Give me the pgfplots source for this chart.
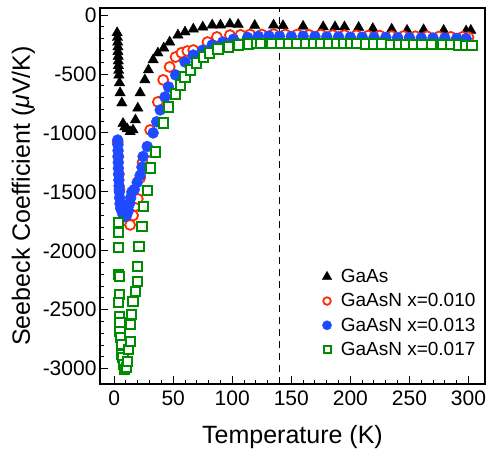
\documentclass[border=0pt]{standalone}
\usepackage{fontspec}
\setmainfont{Liberation Sans}
\usepackage{pgfplots}
\pgfplotsset{compat=1.18}
\definecolor{seebred}{RGB}{255,45,0}
\definecolor{seebblue}{RGB}{30,75,255}
\definecolor{seebgreen}{RGB}{0,140,0}

\begin{document}
\begin{tikzpicture}
\begin{axis}[
  scale only axis, width=385pt, height=376pt,
  xmin=-12, xmax=314, ymin=-3130, ymax=60,
  xtick={0,50,...,300}, ytick={-3000,-2500,...,0},
  minor x tick num=4, minor y tick num=4,
  tick align=inside, tick pos=left,
  major tick length=8pt, minor tick length=4pt,
  every tick/.style={black, line width=1pt},
  axis line style={line width=1.8pt},
  /pgf/number format/assume math mode=true,
  /pgf/number format/set thousands separator={},
  tick label style={font=\fontsize{21}{22}\selectfont},
  xticklabel style={yshift=-3pt},
  xlabel={Temperature (K)},
  ylabel={Seebeck Coefficient ({\itshape μ}V/K)},
  label style={font=\fontsize{25}{27}\selectfont},
  xlabel style={at={(axis description cs:0.5,-0.141)}, anchor=center},
  ylabel style={at={(axis description cs:-0.199,0.5)}, anchor=center},
  legend style={draw=none, fill=none, at={(0.569,0.316)}, anchor=north west,
    font=\fontsize{19}{21}\selectfont, row sep=5.5pt,
    /tikz/every odd column/.append style={column sep=7pt}},
  legend cell align=left,
]
\addplot[black, dash pattern=on 7pt off 5pt, line width=1.4pt, forget plot]
  coordinates {(140,-3130)(140,60)};

% GaAs
\addplot[only marks, mark=triangle*, mark size=6pt, black,
  legend image post style={mark size=5.5pt}] coordinates {
(2.5,-150)(2.8,-190)(3,-230)(3.2,-270)(3.2,-310)(3.4,-350)(3.5,-390)(3.6,-430)
(3.8,-470)(4,-510)(4.5,-575)(5,-660)(6.5,-746)(7.5,-920)(9,-950)(11,-965)
(13.5,-990)(16,-975)(18,-890)(20,-790)(22,-660)(26,-550)(29,-466)(33,-380)
(37,-322)(42,-280)(47,-229)(54,-170)(60,-144)(67,-119)(75,-102)(83,-85)
(90,-85)(98,-76)(105,-80)(119,-88)(135,-85)(143,-90)(160,-95)(177,-100)
(187,-100)(195,-100)(207,-105)(219,-115)(235,-120)(248,-130)(262,-125)
(279,-130)(298,-135)(302,-130)
};
\addlegendentry{GaAs}

% GaAsN x=0.010
\addplot[only marks, mark=*, mark size=5pt, seebred,
  mark options={fill=white, line width=1.8pt},
  legend image post style={mark size=3.8pt}] coordinates {
(3,-1080)(3.5,-1200)(4,-1350)(4.5,-1480)(5.5,-1600)(8,-1700)(11,-1750)
(13.5,-1780)(16,-1700)(18,-1620)(20,-1560)(22,-1380)(24,-1250)(29,-1160)
(30.5,-975)(37,-737)(41.5,-550)(47,-440)(52,-356)(57,-320)(62,-305)(67,-297)
(79,-229)(87,-186)(98,-170)(107,-168)(115,-165)(125,-165)(135,-162)(145,-165)
(155,-165)(165,-168)(175,-165)(185,-170)(195,-170)(205,-172)(215,-175)
(225,-175)(235,-178)(245,-178)(255,-180)(265,-180)(275,-182)(285,-185)
(295,-185)(300,-188)
};
\addlegendentry{GaAsN x=0.010}

% GaAsN x=0.013
\addplot[only marks, mark=*, mark size=5.5pt, seebblue,
  legend image post style={mark size=4.6pt}] coordinates {
(3,-1060)(3.2,-1100)(3.3,-1150)(3.4,-1200)(3.5,-1250)(3.6,-1300)(3.8,-1350)
(4,-1400)(4.2,-1450)(4.4,-1500)(4.6,-1550)(5,-1600)(5.5,-1640)(6.5,-1660)
(7.5,-1690)(9,-1710)(10.5,-1700)(12,-1660)(13,-1600)(14,-1550)(15,-1500)
(17,-1480)(19.5,-1420)(22,-1360)(23.5,-1290)(24.5,-1200)(28,-1115)(33,-1000)
(36,-905)(39,-805)(43,-695)(46,-610)(52,-508)(60,-398)(67,-339)(75,-297)
(83,-254)(92,-229)(101,-205)(113,-190)(122,-180)(131,-178)(140,-180)
(150,-182)(160,-180)(170,-182)(180,-185)(190,-185)(200,-188)(210,-188)
(220,-190)(230,-190)(240,-192)(250,-192)(260,-195)(270,-195)(280,-195)
(290,-198)(298,-200)
};
\addlegendentry{GaAsN x=0.013}

% GaAsN x=0.017
\addplot[only marks, mark=square*, mark size=4.6pt, seebgreen,
  mark options={fill=white, line width=2pt},
  legend image post style={mark size=3.5pt}] coordinates {
(4,-1763)(3.5,-1848)(4,-1975)(4,-2203)(4.5,-2220)(4.5,-2373)(4,-2440)
(4.5,-2559)(5,-2610)(5,-2686)(5.5,-2737)(6,-2797)(6.5,-2881)(7.5,-2907)
(8,-2966)(9,-3008)(10.5,-2990)(11,-2940)(12,-2840)(13.5,-2770)(13.5,-2627)
(15,-2542)(16,-2432)(18,-2347)(19.5,-2263)(19.5,-2136)(21,-1966)(23.5,-1797)
(24.5,-1627)(28,-1490)(31,-1297)(35,-1161)(41.5,-915)(46,-780)(52,-670)
(56,-593)(60,-525)(64.5,-466)(70,-407)(75.5,-356)(81,-322)(88,-288)
(96.6,-271)(105,-254)(113.6,-245)(121,-240)(124,-240)(133.6,-238)
(140.7,-240)(147.5,-240)(154.8,-240)(162,-242)(169,-240)(174.6,-242)
(181.6,-242)(188.7,-243)(194,-243)(200,-244)(205.6,-244)(212.7,-245)
(219.8,-245)(226.8,-246)(234,-247)(241,-247)(246.6,-248)(253.7,-249)
(260.7,-250)(269,-251)(277.7,-252)(284.7,-253)(291.8,-254)(297.5,-255)
(303,-256)
};
\addlegendentry{GaAsN x=0.017}
\end{axis}
\pgfresetboundingbox
\path[use as bounding box] ([xshift=-100pt,yshift=-69pt]current axis.south west)
  rectangle ([xshift=3pt,yshift=8pt]current axis.north east);
\end{tikzpicture}
\end{document}
